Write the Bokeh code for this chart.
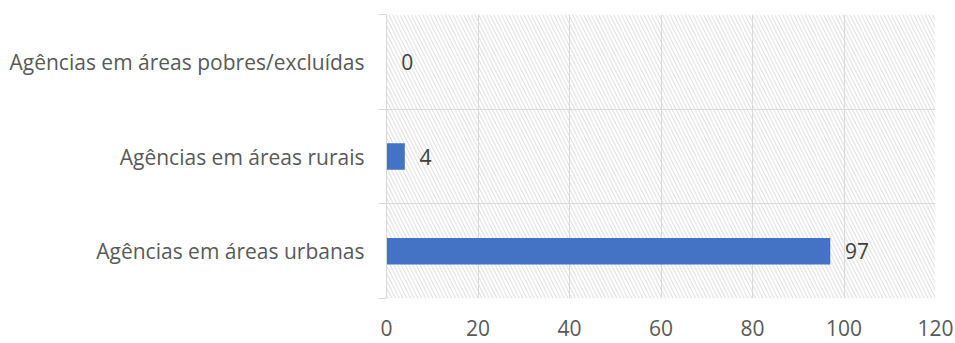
from bokeh.plotting import figure
from bokeh.models import ColumnDataSource, FixedTicker, Range1d
from bokeh.core.properties import value
from bokeh.embed import file_html
from bokeh.resources import INLINE

categories = ["Agências em áreas urbanas", "Agências em áreas rurais", "Agências em áreas pobres/excluídas"]
values = [97, 4, 0]
x_ticks = [0, 20, 40, 60, 80, 100, 120]

FONT = "Open Sans"
FS = "21px"
pos = [i + 0.5 for i in range(len(categories))]

p = figure(width=955, height=343, output_backend="svg", toolbar_location=None,
           x_range=Range1d(0, 120), y_range=Range1d(0, len(categories)),
           min_border_left=386, min_border_right=20, min_border_top=14, min_border_bottom=45)
p.outline_line_color = None
p.background_fill_color = "white"

# hatched plot background
p.quad(left=[0], right=[120], bottom=[0], top=[len(categories)], fill_color=None,
       line_color=None, hatch_pattern="\\", hatch_color="#dcdcdc", hatch_scale=7.5, hatch_weight=1)

src = ColumnDataSource(dict(y=pos, v=values, lbl=[str(v) for v in values],
                            lx=[v + 3.2 for v in values]))
p.hbar(y="y", right="v", left=0, height=0.28, source=src, fill_color="#4472C4", line_color=None)
p.text(x="lx", y="y", text="lbl", source=src, text_font=value(FONT), text_font_size=FS,
       text_color="#404040", text_baseline="middle", text_align="left")

# axes
p.xaxis.ticker = FixedTicker(ticks=x_ticks)
p.xaxis.axis_line_color = None
p.xaxis.major_tick_line_color = None
p.xaxis.minor_tick_line_color = None
p.xaxis.major_label_text_font = FONT
p.xaxis.major_label_text_font_size = FS
p.xaxis.major_label_text_color = "#595959"
p.xaxis.major_label_standoff = 15

p.yaxis.ticker = FixedTicker(ticks=pos, minor_ticks=list(range(len(categories) + 1)))
p.yaxis.major_label_overrides = {pv: c for pv, c in zip(pos, categories)}
p.yaxis.axis_line_color = "#d9d9d9"
p.yaxis.major_tick_line_color = None
p.yaxis.minor_tick_line_color = "#d9d9d9"
p.yaxis.minor_tick_out = 8
p.yaxis.minor_tick_in = 0
p.yaxis.major_label_text_font = FONT
p.yaxis.major_label_text_font_size = FS
p.yaxis.major_label_text_color = "#595959"
p.yaxis.major_label_standoff = 14

p.xgrid.ticker = FixedTicker(ticks=x_ticks)
p.ygrid.ticker = FixedTicker(ticks=list(range(len(categories) + 1)))
p.xgrid.grid_line_color = "#d9d9d9"
p.ygrid.grid_line_color = "#d9d9d9"

open("out.html", "w").write(file_html(p, INLINE))
